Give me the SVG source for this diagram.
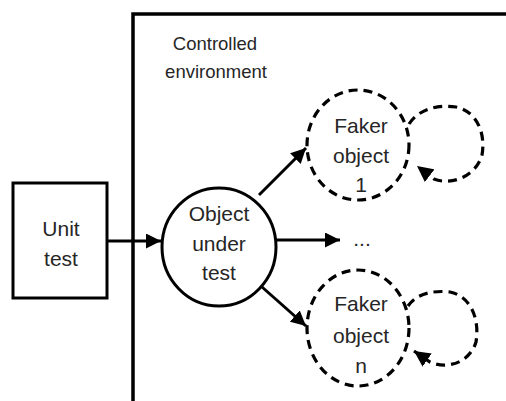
<svg xmlns="http://www.w3.org/2000/svg" width="506" height="401" viewBox="0 0 506 401">
<style>
text{font-family:"Liberation Sans",Arial,sans-serif;font-size:21px;fill:#262626;text-anchor:middle;dominant-baseline:central}
.solid{fill:none;stroke:#000;stroke-width:3}
.dash{fill:none;stroke:#000;stroke-width:3.2;stroke-dasharray:9 6}
.con{fill:none;stroke:#000;stroke-width:3}
</style>
<defs>
<marker id="ah" viewBox="0 0 10 10" refX="10" refY="5" markerWidth="5" markerHeight="5" markerUnits="strokeWidth" orient="auto"><path d="M0,0 L10,5 L0,10 z" fill="#000"/></marker>
</defs>
<rect width="506" height="401" fill="#fff"/>
<g id="environment">
<path d="M133,401 V14 H506" fill="none" stroke="#000" stroke-width="3.5"/>
<text x="215" y="43" style="font-size:18.5px">Controlled</text>
<text x="216" y="71" style="font-size:18.5px">environment</text>
</g>
<g id="unit-test">
<rect x="13" y="183" width="94" height="115" class="solid"/>
<text x="61" y="228">Unit</text>
<text x="61" y="258">test</text>
</g>
<g id="object-under-test">
<ellipse cx="219" cy="247" rx="57" ry="59" class="solid"/>
<text x="219" y="213">Object</text>
<text x="219" y="243">under</text>
<text x="219" y="272">test</text>
</g>
<g id="faker-1">
<ellipse cx="358" cy="145" rx="51" ry="55" class="dash"/>
<text x="361" y="125">Faker</text>
<text x="361" y="155">object</text>
<text x="361" y="184">1</text>
</g>
<g id="faker-n">
<ellipse cx="358" cy="328" rx="51" ry="58" class="dash"/>
<text x="361" y="303">Faker</text>
<text x="361" y="335">object</text>
<text x="361" y="365">n</text>
</g>
<g id="ellipsis">
<text x="362" y="238">...</text>
</g>
<g id="connectors">
<line x1="107" y1="241" x2="161" y2="241" class="con" marker-end="url(#ah)"/>
<line x1="276" y1="240" x2="340" y2="240" class="con" marker-end="url(#ah)"/>
<line x1="259" y1="195" x2="306" y2="148" class="con" marker-end="url(#ah)"/>
<line x1="262" y1="287" x2="306" y2="326" class="con" marker-end="url(#ah)"/>
<path d="M409,124 C418,110 436,104 456,107 C476,111 486,132 482,155 C476,176 452,186 434,179 L417,166" class="dash" marker-end="url(#ah)"/>
<path d="M408,306 C416,294 432,290 450,292 C470,296 480,318 476,342 C470,362 448,370 430,362 L414,351" class="dash" marker-end="url(#ah)"/>
</g>
</svg>
